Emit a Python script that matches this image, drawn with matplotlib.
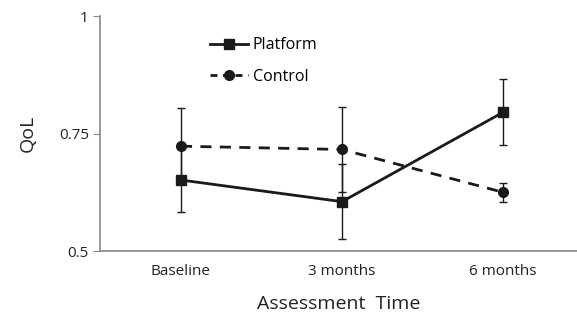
import matplotlib
matplotlib.use("Agg")
import matplotlib.pyplot as plt
from matplotlib.lines import Line2D

plt.rcParams['font.family'] = ['Open Sans', 'DejaVu Sans']

# Data
timepoints = ['Baseline', '3 months', '6 months']
platform_mean = [0.651, 0.605, 0.795]
platform_err = [0.068, 0.080, 0.070]
control_mean = [0.723, 0.716, 0.625]
control_err = [0.081, 0.091, 0.020]

x = list(range(len(timepoints)))
ink = '#1a1a1a'

fig = plt.figure(figsize=(5.77, 3.2), dpi=100)
ax = fig.add_axes([0.1733, 0.2156, 0.8267, 0.7344])

ax.errorbar(x, platform_mean, yerr=platform_err, color=ink, lw=2,
            marker='s', ms=7, elinewidth=1, capsize=3, capthick=1)
ax.errorbar(x, control_mean, yerr=control_err, color=ink, lw=2,
            ls=(0, (4, 3)), marker='o', ms=7, elinewidth=1, capsize=3,
            capthick=1)

ax.set_xlim(-0.503, 2.46)
ax.set_ylim(0.5, 1)
ax.set_xticks(x)
ax.set_xticklabels(timepoints, fontsize=11, color='#222222')
ax.set_yticks([0.5, 0.75, 1])
ax.set_yticklabels(['0.5', '0.75', '1'], fontsize=11, color='#222222')
ax.tick_params(axis='x', length=0, pad=9)
ax.tick_params(axis='y', length=5, color='#868686', pad=3)

for s in ['top', 'right']:
    ax.spines[s].set_visible(False)
for s in ['left', 'bottom']:
    ax.spines[s].set_color('#868686')
    ax.spines[s].set_linewidth(1.2)

ax.set_ylabel('QoL', fontsize=14, color='#222222', labelpad=16)
ax.set_xlabel('Assessment  Time', fontsize=14, color='#222222', labelpad=12)

handles = [Line2D([], [], color=ink, lw=2, marker='s', ms=7),
           Line2D([], [], color=ink, lw=2, ls=(0, (2.5, 2)), marker='o', ms=7)]
ax.legend(handles, ['Platform', 'Control'], loc='upper left',
          bbox_to_anchor=(0.2, 0.97), frameon=False, fontsize=11.5,
          handlelength=2.4, labelspacing=0.95, handletextpad=0.3)

fig.savefig('out.png', dpi=100)
